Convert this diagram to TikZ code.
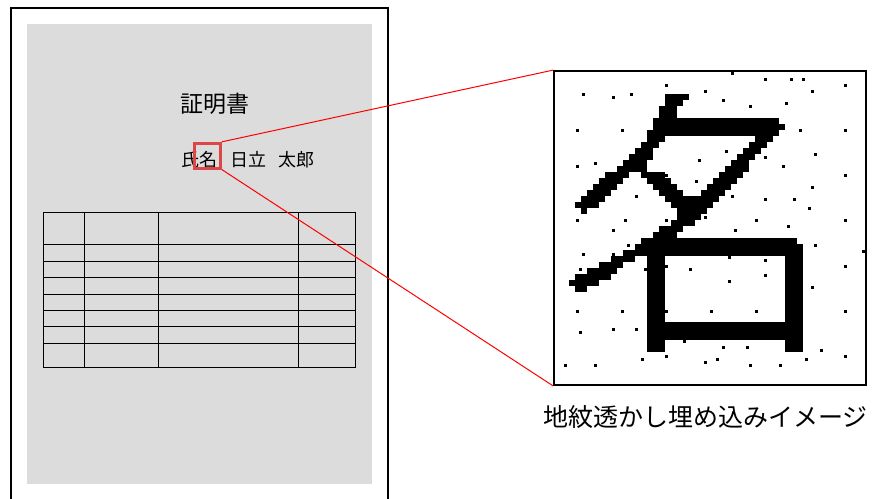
\documentclass[tikz,border=0pt]{standalone}
\usepackage{fontspec}
\newfontfamily\jp{Noto Sans CJK JP}
\definecolor{pagegray}{RGB}{220,220,220}
\definecolor{hlred}{RGB}{220,70,70}
\begin{document}
\begin{tikzpicture}[x=1pt,y=-1pt,
  tline/.style={draw=black,line width=1pt},
  jptext/.style={inner sep=0pt,anchor=center,text=black},
  cell/.style={fill=black}]
\useasboundingbox (0,0) rectangle (886,498);
\fill[white] (0,0) rectangle (886,498);
% page
\draw[line width=2pt] (10.5,500) -- (10.5,7.8) -- (387.7,7.8) -- (387.7,500);
\fill[pagegray] (27,24) rectangle (372,484);
% title and name
\node[jptext,font=\jp\fontsize{23}{23}\selectfont] (title) at (215,104) {証明書};
\node[jptext,font=\jp\fontsize{18}{18}\selectfont] (shimei) at (199,159.5) {氏名};
\node[jptext,font=\jp\fontsize{18}{18}\selectfont] (sei) at (248,159.5) {日立};
\node[jptext,font=\jp\fontsize{18}{18}\selectfont] (mei) at (296.5,159.5) {太郎};
\node[draw=hlred,line width=3pt,minimum width=25.6pt,minimum height=24.7pt,inner sep=0pt] (hl) at (207.5,155.7) {};
% table
\draw[tline] (43,212) rectangle (355,367);
\foreach \yy in {244,261,277,294,310,326,343} \draw[tline] (43,\yy) -- (355,\yy);
\foreach \xx in {84,158,298} \draw[tline] (\xx,212) -- (\xx,367);
% magnified view
\node[draw=black,line width=1.8pt,fill=white,minimum width=312pt,minimum height=314pt,inner sep=0pt] (mag) at (710,228) {};
\begin{scope}[shift={(557,70)},x=6pt,y=-6pt]
\foreach \r/\a/\b in {4/18/22,5/18/21,6/17/20,7/17/20,8/16/37,9/16/38,10/15/37,
  11/15/18,12/14/17,13/13/16,14/12/16,15/11/15,16/10/15,
  17/8/12,18/7/11,19/6/10,20/5/9,21/4/8,22/3/7,23/4/5,
  17/14/18,18/15/19,19/16/20,20/17/21,
  11/33/36,12/32/35,13/31/34,14/30/33,15/29/32,16/28/32,17/27/31,18/26/30,19/25/29,20/24/28,
  21/18/27,22/19/26,23/20/25,24/20/24,25/19/23,26/17/21,27/16/20,
  28/14/40,29/13/41,30/11/41,
  31/9/13,32/7/11,33/5/10,34/3/9,35/2/7,36/3/5}
  \fill[cell] (\a,\r) rectangle (\b,\r+1);
\fill[cell] (15,28) rectangle (18,47);
\fill[cell] (38,29) rectangle (41,47);
\fill[cell] (15,42) rectangle (41,45);
\end{scope}
\foreach \x/\y in {547/25,647/43,724/43,760/43,885/61,349/61,465/79,787/79,100/88,190/97,
  243/88,520/106,601/124,708/115,82/196,217/196,751/196,886/196,529/259,796/268,
  448/286,646/277,82/304,136/295,700/304,886/331,349/331,439/349,787/367,259/394,
  547/394,646/403,733/403,778/430,82/466,226/466,349/466,466/457,619/466,886/466,
  715/485,190/496,556/496,235/541,796/541,940/559,100/568,190/568,349/604,287/613,
  421/613,538/577,646/586,91/613,886/604,646/631,538/649,787/667,82/739,217/739,
  349/739,484/739,619/739,886/739,91/802,190/793,259/793,403/829,520/847,592/847,
  814/856,277/883,349/874,466/892,502/883,769/883,886/874,46/901,136/901,601/901,691/901}
  \fill ({550+\x/3-1.5},{65+\y/3-1.5}) rectangle ++(3,3);
% connectors
\draw[red,line width=1pt] (hl.north east) -- (mag.north west);
\draw[red,line width=1pt] (hl.south east) -- (mag.south west);
% caption
\node[jptext,font=\jp\fontsize{25}{25}\selectfont] (cap) at (705.5,417.5) {地紋透かし埋め込みイメージ};
\end{tikzpicture}
\end{document}
